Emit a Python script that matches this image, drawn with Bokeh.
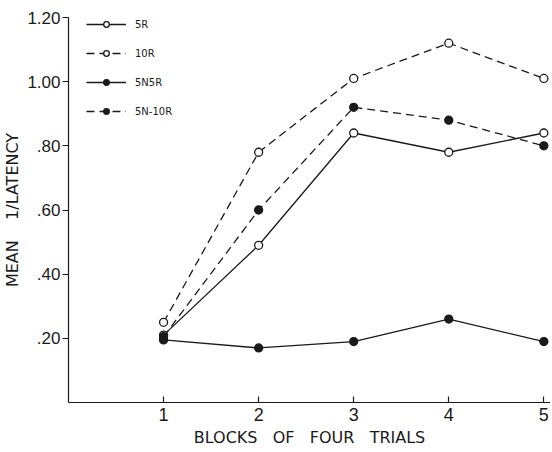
from bokeh.plotting import figure
from bokeh.models import Range1d, FixedTicker, Legend, LegendItem
from bokeh.embed import file_html
from bokeh.resources import INLINE

blocks = [1, 2, 3, 4, 5]
r5 = [0.21, 0.49, 0.84, 0.78, 0.84]
r10 = [0.25, 0.78, 1.01, 1.12, 1.01]
n5r5 = [0.195, 0.17, 0.19, 0.26, 0.19]
n5r10 = [0.205, 0.60, 0.92, 0.88, 0.80]

y_ticks = [0.2, 0.4, 0.6, 0.8, 1.0, 1.2]
y_tick_labels = [".20", ".40", ".60", ".80", "1.00", "1.20"]
x_ticks = [1, 2, 3, 4, 5]

FONT = "DejaVu Sans"
TICK_FONT = "Liberation Sans"
INK = "#1a1a1a"
NB = "\u00a0"

p = figure(width=550, height=450, output_backend="svg", toolbar_location=None,
           x_range=Range1d(0, 5.07), y_range=Range1d(0, 1.2),
           min_border_left=65, min_border_right=0, min_border_top=17, min_border_bottom=48)
p.outline_line_color = None
p.xgrid.visible = False
p.ygrid.visible = False

series = [
    ("5R", r5, "white", "solid"),
    ("10R", r10, "white", "8 5"),
    ("5N5R", n5r5, INK, "solid"),
    ("5N-10R", n5r10, INK, "8 5"),
]
items = []
for name, vals, fill, dash in series:
    ln = p.line(blocks, vals, line_color=INK, line_width=1.3, line_dash=dash)
    sc = p.scatter(blocks, vals, size=8, fill_color=fill, line_color=INK, line_width=1.3)
    items.append(LegendItem(label=name, renderers=[ln, sc]))

legend = Legend(items=items, border_line_color=None,
                background_fill_alpha=0, label_text_font=FONT, label_text_font_size="10px",
                label_text_color=INK, glyph_width=40, glyph_height=14, spacing=15,
                label_standoff=9, margin=0, padding=0, location=(18, 284))
p.add_layout(legend)

for ax in (p.xaxis, p.yaxis):
    ax.axis_line_color = INK
    ax.axis_line_width = 1.2
    ax.major_tick_line_color = INK
    ax.major_tick_line_width = 1.2
    ax.minor_tick_line_color = None
    ax.major_label_text_font = TICK_FONT
    ax.major_label_text_color = INK
    ax.axis_label_text_font = FONT
    ax.axis_label_text_font_style = "normal"
    ax.axis_label_text_color = INK

p.xaxis.ticker = FixedTicker(ticks=x_ticks)
p.xaxis.major_tick_in = 6
p.xaxis.major_tick_out = 0
p.xaxis.major_label_text_font_size = "18px"
p.xaxis.major_label_standoff = 5
p.xaxis.axis_label = "BLOCKS" + NB * 3 + "OF" + NB * 3 + "FOUR" + NB * 3 + "TRIALS"
p.xaxis.axis_label_text_font_size = "16px"
p.xaxis.axis_label_standoff = 4

p.yaxis.ticker = FixedTicker(ticks=y_ticks)
p.yaxis.major_label_overrides = {t: l for t, l in zip(y_ticks, y_tick_labels)}
p.yaxis.major_tick_in = 0
p.yaxis.major_tick_out = 6
p.yaxis.major_label_text_font_size = "17px"
p.yaxis.major_label_standoff = 2
p.yaxis.axis_label = "MEAN" + NB * 4 + "1/LATENCY"
p.yaxis.axis_label_text_font_size = "16px"
p.yaxis.axis_label_standoff = 2

open("out.html", "w").write(file_html(p, INLINE))
